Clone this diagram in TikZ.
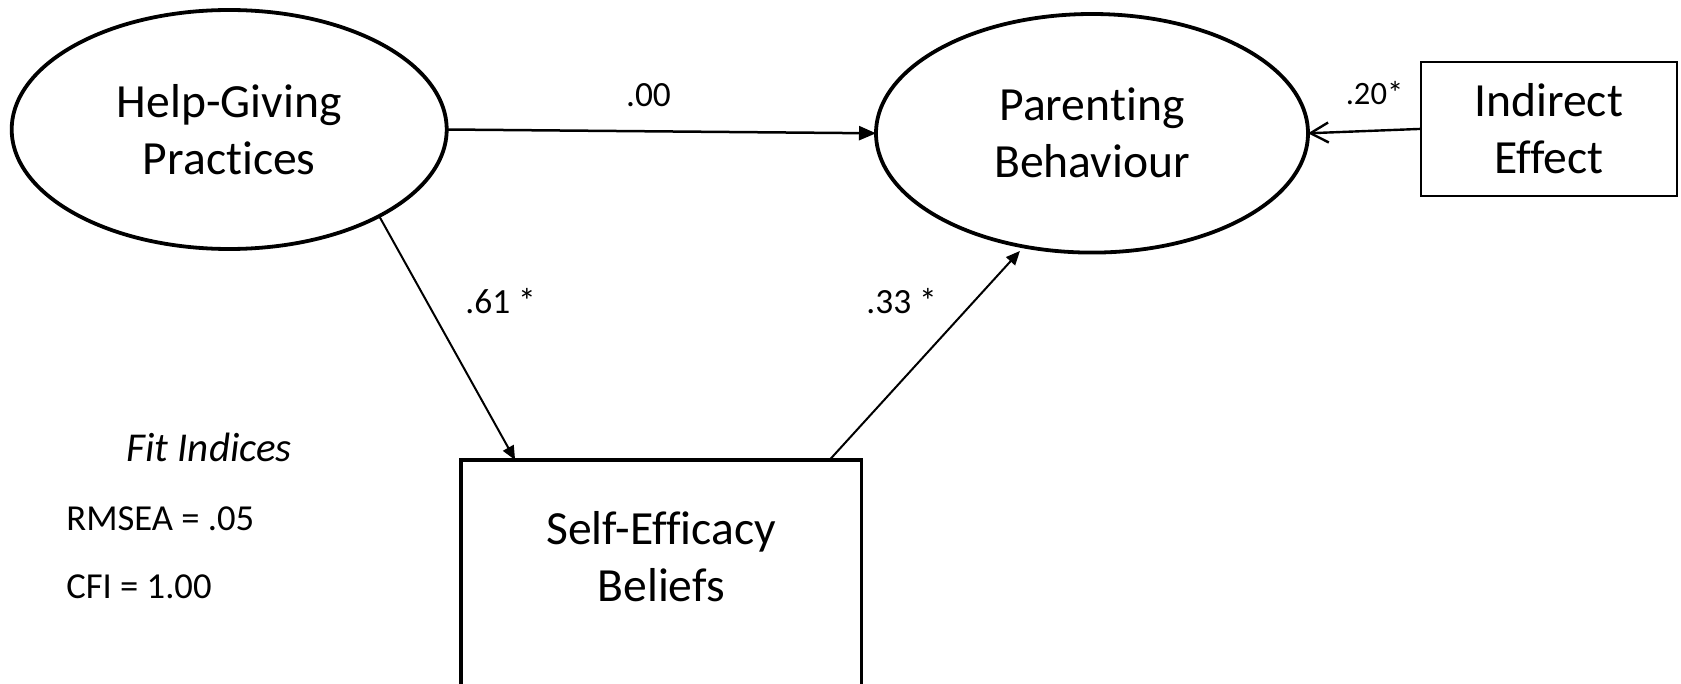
\documentclass[tikz,border=0pt]{standalone}
\usepackage{fontspec}
\setmainfont{Carlito}[Ligatures=NoCommon]
\usetikzlibrary{shapes.geometric,arrows.meta}

\tikzset{
  construct/.style={ellipse, draw, line width=1.9pt, minimum width=#1, inner sep=0pt, outer sep=0pt, align=center,
    font=\fontsize{23.8}{28.5}\selectfont},
  measured/.style={rectangle, draw, inner sep=0pt, outer sep=0pt, align=center,
    font=\fontsize{23.8}{28.5}\selectfont},
  coef/.style={inner sep=0pt, font=\fontsize{17.7}{20}\selectfont},
  fitline/.style={inner sep=0pt, anchor=base west, font=\fontsize{18.3}{21}\selectfont},
  path/.style={line width=1pt, -{Triangle[length=7pt,width=6pt]}},
}

\begin{document}
\begin{tikzpicture}[x=0.5pt, y=-0.5pt]
  \clip (0,0) rectangle (1681,684);
  \fill[white] (0,0) rectangle (1681,684);

  % latent constructs
  \node[construct=217.5pt, minimum height=119.5pt] (hg) at (229.2,129.5) {Help-Giving\\Practices};
  \node[construct=216pt, minimum height=119.3pt] (par) at (1092,133.3) {Parenting\\Behaviour};

  % observed variables
  \node[measured, line width=1pt, minimum width=128pt, minimum height=67.2pt] (ind) at (1548.7,128.9) {Indirect\\Effect};
  \node[measured, line width=1.9pt, minimum width=200.4pt, minimum height=125pt] (se) at (661.1,585) {};
  \node[measured, draw=none] (setext) at (661.1,557) {Self-Efficacy\\Beliefs};

  % structural paths
  \draw[path, line width=1.25pt, -{Triangle[length=8.5pt,width=7pt]}] (hg.east) -- (par.west);
  \draw[path] (hg.-30) -- ([xshift=27.2pt]se.north west);
  \draw[path, shorten >=3pt] ([xshift=-16pt]se.north east) -- (par.239);
  \draw[line width=1.2pt, -{Straight Barb[length=9pt,width=10pt]}] (ind.west) -- (par.east);

  % path coefficients
  \node[coef, anchor=base] (c1) at (648.5,106.8) {.00};
  \node[coef, anchor=base west] (c2) at (465,313.5) {.61 *};
  \node[coef, anchor=base west] (c3) at (866,314) {.33 *};
  \node[coef, anchor=base, font=\fontsize{16.3}{19}\selectfont] (c4) at (1374.5,105) {.20*};

  % model fit
  \node[fitline, font=\fontsize{20.5}{24}\itshape] (fit) at (126,461.7) {Fit Indices};
  \node[fitline] (rmsea) at (66,530) {RMSEA = .05};
  \node[fitline] (cfi) at (66,598.3) {CFI = 1.00};
\end{tikzpicture}
\end{document}
